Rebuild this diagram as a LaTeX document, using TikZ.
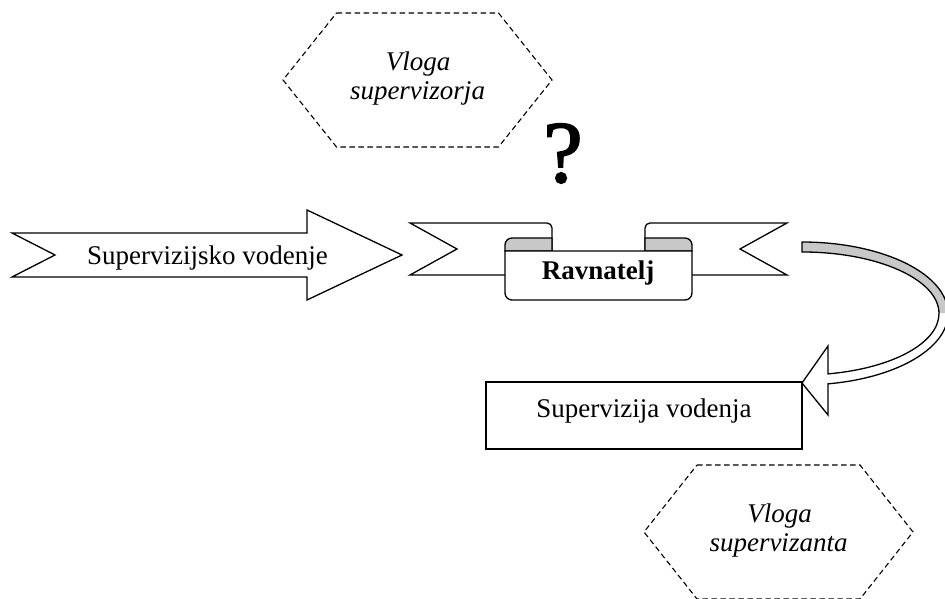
\documentclass[tikz,border=0pt]{standalone}
\usepackage{fontspec}
\setmainfont{Liberation Serif}
\newfontfamily\qfont[FakeBold=2]{Liberation Serif}
\definecolor{curlgray}{RGB}{200,200,200}
\begin{document}
\begin{tikzpicture}[x=1pt,y=1pt,
  shapeline/.style={line width=1.3pt, line join=miter},
  dashline/.style={line width=1.1pt, dash pattern=on 5.5pt off 3.5pt},
  lbl/.style={font=\fontsize{27}{29}\selectfont, inner sep=0pt, anchor=base},
  ilbl/.style={lbl, font=\fontsize{27}{29}\selectfont\itshape}]
\useasboundingbox (0,0) rectangle (945,599);
\fill[white] (0,0) rectangle (945,599);

% top hexagon
\draw[dashline] (336.5,586) -- (498.5,586) -- (552,519) -- (498.5,452) -- (336.5,452) -- (283,519) -- cycle;
\node[ilbl] (vlogaA) at (418,528) {Vloga};
\node[ilbl] (supA) at (417.5,499) {supervizorja};

% question mark
\node[inner sep=0pt, anchor=base, font=\qfont\fontsize{88}{90}\selectfont] (qm) at (563,417) {?};

% left arrow
\filldraw[shapeline, fill=white] (12,366) -- (307,366) -- (307,389) -- (402,344) -- (307,299) -- (307,322) -- (12,322) -- (55,344) -- cycle;
\node[lbl] (supvod) at (207.5,334) {Supervizijsko vodenje};

% ribbon: wings
\filldraw[shapeline, fill=white] (410,376) -- (547,376) arc[start angle=90,end angle=0,radius=5] -- (552,324) -- (410,324) -- (457,350) -- cycle;
\filldraw[shapeline, fill=white] (787,376) -- (650,376) arc[start angle=90,end angle=180,radius=5] -- (645,324) -- (787,324) -- (740,350) -- cycle;
% curls
\filldraw[shapeline, fill=curlgray] (552,348) -- (552,361) -- (512,361) to[out=180,in=90] (505,354) -- (505,348) -- cycle;
\filldraw[shapeline, fill=curlgray] (645,348) -- (645,361) -- (685,361) to[out=0,in=90] (692,354) -- (692,348) -- cycle;
% center panel
\filldraw[shapeline, fill=white] (505,348) -- (505,306) arc[start angle=180,end angle=270,radius=7] -- (685,299) arc[start angle=270,end angle=360,radius=7] -- (692,348) -- cycle;
\node[lbl, font=\fontsize{27}{29}\selectfont\bfseries] (ravn) at (598,319) {Ravnatelj};

% curved arrow
\fill[curlgray] (802,357) arc[start angle=90, end angle=0, x radius=146, y radius=71.5] -- (939,285.5) arc[start angle=0, end angle=90, x radius=137, y radius=61.5] -- cycle;
\fill[white] (828,225.12) -- (828,253) -- (802,216) -- (828,184) -- (828,215.14) arc[start angle=-79.74, end angle=0, x radius=146, y radius=71.5] -- (939,285.5) arc[start angle=0, end angle=-79.06, x radius=137, y radius=61.5] -- cycle;
\draw[shapeline] (828,215.14) arc[start angle=-79.74, end angle=90, x radius=146, y radius=71.5] -- (802,347) arc[start angle=90, end angle=-79.06, x radius=137, y radius=61.5] -- (828,253) -- (802,216) -- (828,184) -- cycle;

% rectangle
\node[draw, shapeline, minimum width=316, minimum height=67, inner sep=0pt] (box) at (644,183.5) {};
\node[lbl] (supvodb) at (644,181) {Supervizija vodenja};

% bottom hexagon
\draw[dashline] (697,134) -- (860,134) -- (913,67) -- (860,0) -- (697,0) -- (644,67) -- cycle;
\node[ilbl] (vlogaB) at (779.5,76) {Vloga};
\node[ilbl] (supB) at (778.5,47) {supervizanta};
\end{tikzpicture}
\end{document}
